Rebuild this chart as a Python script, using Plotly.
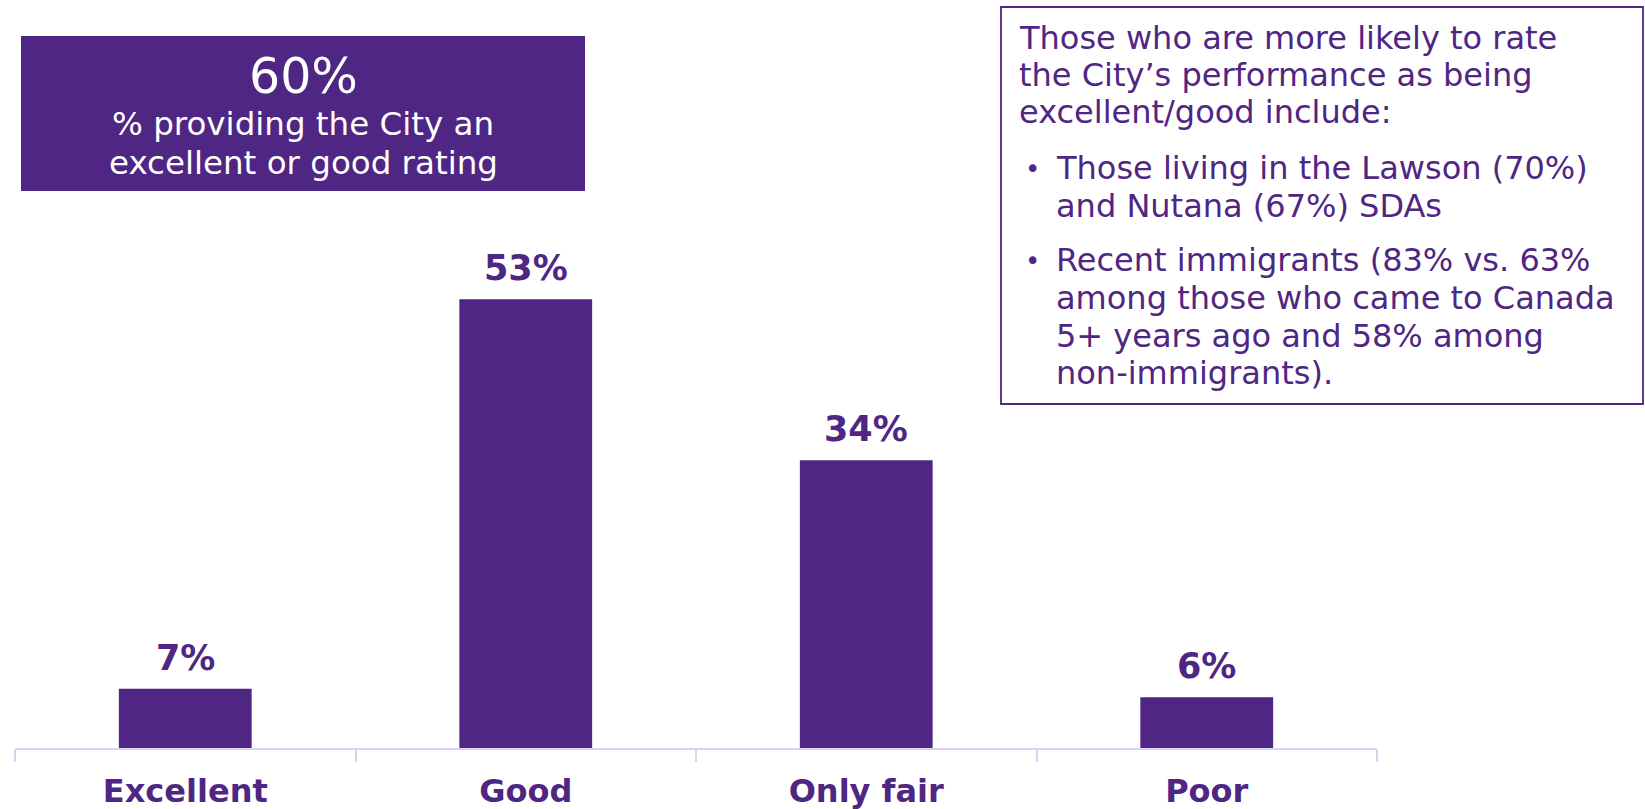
import plotly.graph_objects as go

# Rating distribution
categories = ["Excellent", "Good", "Only fair", "Poor"]
shares = [7, 53, 34, 6]

# Headline call-out
headline_value = 60
headline_caption = ["% providing the City an", "excellent or good rating"]

# Side note
intro_lines = [
    "Those who are more likely to rate",
    "the City’s performance as being",
    "excellent/good include:",
]
bullet_items = [
    ["Those living in the Lawson (70%)", "and Nutana (67%) SDAs"],
    ["Recent immigrants (83% vs. 63%", "among those who came to Canada",
     "5+ years ago and 58% among", "non-immigrants)."],
]

W, H = 1645, 809
L, R, T, B = 15, 268, 240, 61
PW, PH = W - L - R, H - T - B
PURPLE = "#4F2683"
AXIS = "#DAD2F2"
FONT = "DejaVu Sans"


def px(x):
    return (x - L) / PW


def py(y):
    return (H - B - y) / PH


fig = go.Figure(
    go.Bar(
        x=categories,
        y=shares,
        width=0.39,
        marker=dict(color=PURPLE, line_width=0),
        hoverinfo="skip",
    )
)

# value labels above bars
for cat, val in zip(categories, shares):
    fig.add_annotation(
        x=cat, y=val, xref="x", yref="y",
        text=f"<b>{val}%</b>", showarrow=False,
        yanchor="bottom", yshift=9,
        font=dict(family=FONT, size=35, color=PURPLE),
    )

# headline box
fig.add_shape(type="rect", xref="paper", yref="paper",
              x0=px(21), x1=px(585), y0=py(191), y1=py(36),
              fillcolor=PURPLE, line_width=0, layer="below")
fig.add_annotation(xref="paper", yref="paper", x=px(303), y=py(77),
                   text=f"{headline_value}%", showarrow=False,
                   xanchor="center", yanchor="middle",
                   font=dict(family=FONT, size=49, color="white"))
for line, yc in zip(headline_caption, [124, 163]):
    fig.add_annotation(xref="paper", yref="paper", x=px(303), y=py(yc),
                       text=line, showarrow=False,
                       xanchor="center", yanchor="middle",
                       font=dict(family=FONT, size=32.5, color="white"))

# side note box
fig.add_shape(type="rect", xref="paper", yref="paper",
              x0=px(1001), x1=px(1643), y0=py(404), y1=py(7),
              fillcolor="rgba(0,0,0,0)", line=dict(color=PURPLE, width=1.8))

note_font = dict(family=FONT, size=32, color=PURPLE)
for line, yc in zip(intro_lines, [38, 75.5, 112]):
    fig.add_annotation(xref="paper", yref="paper", x=px(1017), y=py(yc),
                       text=line, showarrow=False,
                       xanchor="left", yanchor="middle", font=note_font)

bullet_rows = [[168, 206], [260, 298, 336, 373]]
for item, rows in zip(bullet_items, bullet_rows):
    fig.add_annotation(xref="paper", yref="paper", x=px(1032), y=py(rows[0] + 1),
                       text="•", showarrow=False,
                       xanchor="center", yanchor="middle",
                       font=dict(family=FONT, size=26, color=PURPLE))
    for line, yc in zip(item, rows):
        fig.add_annotation(xref="paper", yref="paper", x=px(1054), y=py(yc),
                           text=line, showarrow=False,
                           xanchor="left", yanchor="middle", font=note_font)

fig.update_layout(
    width=W, height=H,
    margin=dict(l=L, r=R, t=T, b=B, pad=0, autoexpand=False),
    paper_bgcolor="white", plot_bgcolor="white",
    showlegend=False,
    bargap=0.61,
    font=dict(family=FONT, color=PURPLE),
)
fig.update_xaxes(
    automargin=False,
    showline=True, linecolor=AXIS, linewidth=2,
    ticks="outside", tickson="boundaries", ticklen=12, tickwidth=2,
    tickcolor=AXIS, showgrid=False,
    ticklabelstandoff=14,
    tickfont=dict(family=FONT, size=32, color=PURPLE),
    tickprefix="<b>", ticksuffix="</b>",
)
fig.update_yaxes(range=[0, 60], visible=False, showgrid=False, automargin=False)

fig.write_html("out.html", config={"displayModeBar": False})
